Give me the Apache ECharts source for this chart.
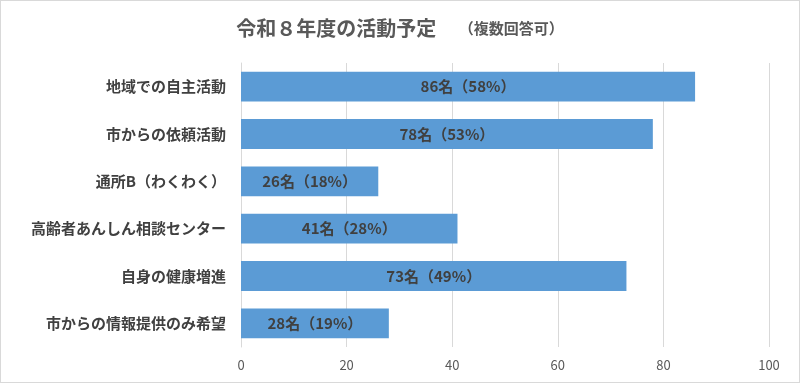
<!DOCTYPE html>
<html><head><meta charset="utf-8">
<script src="https://cdn.jsdelivr.net/npm/echarts@6/dist/echarts.min.js"></script>
<style>html,body{margin:0;padding:0;background:#fff}#c{width:800px;height:383px;box-sizing:border-box;border:1px solid #d9d9d9}</style>
</head><body><div id="c"></div>
<script>
const categories = ['地域での自主活動','市からの依頼活動','通所B（わくわく）','高齢者あんしん相談センター','自身の健康増進','市からの情報提供のみ希望'];
const counts = [86,78,26,41,73,28];
const percents = [58,53,18,28,49,19];
const xTicks = [0,20,40,60,80,100];
const FONT = '"Noto Sans CJK JP", "Noto Sans", sans-serif';
const chart = echarts.init(document.getElementById('c'));
chart.setOption({
  backgroundColor:'#fff',
  animation:false,
  title:{
    text:'{a|令和８年度の活動予定}{b|　　（複数回答可）}',
    left:'center', top:12,
    textStyle:{rich:{
      a:{fontSize:20,fontWeight:'bold',color:'#595959',fontFamily:FONT},
      b:{fontSize:15,fontWeight:'bold',color:'#595959',fontFamily:FONT}
    }}
  },
  grid:{left:240,right:30,top:62,bottom:35,containLabel:false},
  xAxis:{
    type:'value',min:xTicks[0],max:xTicks[xTicks.length-1],interval:20,
    axisLine:{show:false},axisTick:{show:false},
    splitLine:{lineStyle:{color:'#d9d9d9',width:1}},
    axisLabel:{color:'#595959',fontSize:13,fontFamily:FONT,margin:12}
  },
  yAxis:{
    type:'category',inverse:true,data:categories,
    axisLine:{lineStyle:{color:'#d9d9d9'}},axisTick:{show:false},
    axisLabel:{color:'#404040',fontSize:15,fontWeight:'bold',fontFamily:FONT,margin:15}
  },
  series:[{
    type:'bar',
    data:counts,
    barCategoryGap:'37%',
    itemStyle:{color:'#5b9bd5'},
    label:{show:true,position:'inside',color:'#404040',fontSize:15,fontWeight:'bold',fontFamily:FONT,
      formatter:p=>counts[p.dataIndex]+'名（'+percents[p.dataIndex]+'%）'}
  }]
});
</script></body></html>
